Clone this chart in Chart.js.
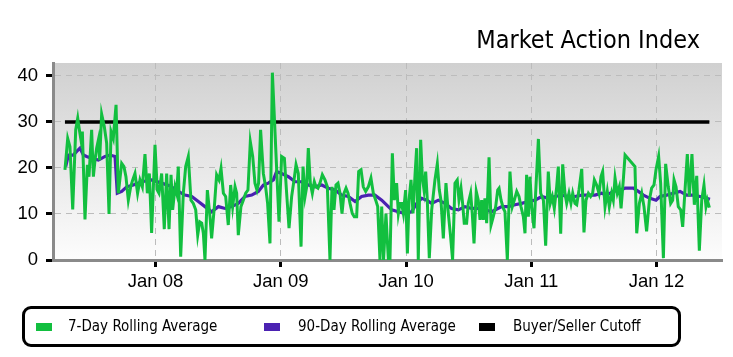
<!DOCTYPE html>
<html>
<head>
<meta charset="utf-8">
<script src="https://cdn.jsdelivr.net/npm/chart.js@4.4.1/dist/chart.umd.min.js"></script>
<style>
html,body{margin:0;padding:0;background:#fff;}
#wrap{position:relative;width:733px;height:357px;overflow:hidden;}
#c{position:absolute;left:0;top:0;}
#title{position:absolute;right:33px;top:29px;font-family:"DejaVu Sans Condensed","DejaVu Sans",sans-serif;font-size:25px;line-height:22px;color:#000;white-space:nowrap;}
#legendBox{position:absolute;left:22px;top:306px;width:659px;height:41px;box-sizing:border-box;border:3.5px solid #000;border-radius:9px;}
.sw{position:absolute;top:323px;width:16px;height:8px;}
.lt{position:absolute;top:319px;font-family:"DejaVu Sans Condensed","DejaVu Sans",sans-serif;font-size:15px;line-height:15px;color:#000;white-space:nowrap;}
</style>
</head>
<body>
<div id="wrap">
<canvas id="c" width="733" height="357"></canvas>
<div id="title">Market Action Index</div>
<div id="legendBox"></div>
<div class="sw" style="left:36px;background:#12bf3f"></div>
<div class="lt" style="left:68px">7-Day Rolling Average</div>
<div class="sw" style="left:264px;background:#4b22b2"></div>
<div class="lt" style="left:298px">90-Day Rolling Average</div>
<div class="sw" style="left:479px;background:#000"></div>
<div class="lt" style="left:513px">Buyer/Seller Cutoff</div>
</div>
<script>
// ---- data (time in decimal years) ----
const yearTicks = [2008, 2009, 2010, 2011, 2012];
const yTicks = [0, 10, 20, 30, 40];
const cutoffValue = 30;

const t7 = [
2007.277,2007.299,2007.317,2007.339,2007.363,2007.379,2007.392,2007.405,2007.416,2007.437,
2007.456,2007.469,2007.490,2007.504,2007.517,2007.530,2007.544,2007.554,2007.570,2007.591,
2007.610,2007.629,2007.645,2007.663,2007.685,2007.703,2007.730,2007.748,2007.764,2007.783,
2007.802,2007.818,2007.836,2007.857,2007.876,2007.895,2007.916,2007.935,2007.951,2007.969,
2007.996,2008.014,2008.028,2008.049,2008.070,2008.089,2008.108,
2008.124,2008.137,2008.156,2008.169,2008.182,2008.201,2008.222,2008.241,2008.262,2008.283,
2008.302,2008.321,2008.337,2008.353,2008.369,2008.382,2008.395,2008.414,2008.435,2008.448,
2008.470,2008.488,2008.507,2008.523,2008.542,2008.560,2008.581,2008.600,2008.616,2008.635,
2008.648,2008.661,2008.682,2008.701,2008.720,2008.738,2008.757,2008.776,2008.794,2008.810,
2008.823,2008.839,2008.861,2008.879,2008.895,2008.914,2008.933,
2008.986,2009.007,2009.029,2009.047,2009.066,2009.087,2009.106,2009.122,2009.140,2009.162,
2009.178,2009.194,2009.207,2009.220,2009.236,2009.252,2009.268,2009.281,2009.297,2009.313,
2009.332,2009.353,2009.372,2009.393,2009.409,2009.425,2009.441,2009.457,2009.473,2009.489,
2009.505,2009.521,2009.537,2009.553,2009.571,2009.587,2009.606,2009.622,2009.641,2009.659,
2009.678,2009.699,2009.720,2009.739,2009.758,2009.774,2009.792,2009.806,2009.821,2009.840,
2009.859,2009.872,2009.891,2009.907,2009.925,2009.939,2009.952,2009.965,2009.979,2009.997,
2010.011,2010.024,2010.040,2010.056,2010.072,2010.085,2010.098,2010.117,2010.130,2010.144,
2010.157,2010.170,2010.186,2010.205,2010.231,2010.250,2010.266,2010.279,2010.298,2010.319,
2010.338,2010.356,2010.372,2010.391,2010.409,2010.423,2010.439,2010.452,2010.465,2010.484,
2010.497,2010.516,2010.529,2010.543,2010.561,2010.577,2010.591,2010.604,2010.617,2010.630,
2010.644,2010.663,2010.679,2010.697,2010.716,2010.732,
2010.743,2010.759,2010.777,2010.790,2010.809,2010.830,2010.849,2010.865,2010.884,2010.902,
2010.918,2010.937,2010.950,2010.963,2010.977,2010.990,2011.003,2011.022,2011.035,2011.057,
2011.075,2011.097,2011.115,2011.136,2011.152,2011.168,2011.184,2011.203,2011.216,2011.235,
2011.251,2011.269,2011.283,2011.301,2011.317,2011.331,2011.349,2011.363,2011.381,2011.403,
2011.421,2011.437,2011.456,2011.474,2011.490,2011.504,2011.522,2011.541,2011.557,
2011.570,2011.589,2011.607,2011.623,2011.642,2011.655,2011.669,2011.687,2011.703,2011.717,
2011.735,2011.749,2011.828,2011.842,2011.863,2011.882,2011.900,2011.921,2011.943,2011.961,
2011.980,2011.996,2012.017,2012.033,2012.055,2012.073,2012.094,2012.113,2012.129,2012.140,
2012.156,2012.174,2012.193,2012.209,2012.227,2012.246,2012.262,2012.283,2012.302,2012.321,
2012.342,2012.361,2012.379,2012.395,2012.406,2012.422
];
const v7 = [
19.6,26.4,24.6,11.0,28.3,30.8,28.3,26.1,27.9,8.8,
20.7,18.1,28.3,18.1,21.7,24.3,26.1,21.7,31.7,29.0,
25.4,10.0,27.9,26.4,33.7,14.5,21.0,20.3,18.1,13.0,
15.9,17.4,18.8,14.5,17.4,15.9,23.0,14.5,18.8,5.9,
25.0,15.2,14.5,18.8,6.7,18.8,6.7,
18.5,10.9,15.9,14.5,20.3,0.7,14.5,20.3,22.5,13.0,
12.3,10.9,5.4,8.3,8.0,5.8,0.0,15.2,9.4,4.7,
11.6,18.5,17.4,19.9,14.5,13.8,7.6,16.3,11.6,15.9,
14.5,5.4,11.6,13.0,14.5,15.2,25.7,22.5,16.7,15.2,
16.7,28.3,18.8,15.9,12.3,3.6,40.7,
8.3,22.5,22.1,14.5,6.9,13.8,17.4,20.7,18.8,2.9,
20.3,13.8,15.9,24.3,16.7,14.5,17.0,15.9,15.6,16.7,
18.5,17.4,15.9,0.0,15.9,10.9,16.3,16.7,14.5,10.1,
14.5,15.6,14.5,12.3,10.1,9.4,9.4,19.2,19.6,15.9,
14.9,15.9,17.8,14.5,13.0,11.6,0.0,11.6,0.0,10.1,
0.0,0.0,23.2,13.0,16.7,10.1,12.3,12.3,10.1,15.2,
1.4,13.0,17.4,10.1,18.5,24.3,0.0,26.1,18.1,15.2,
19.2,13.0,0.4,10.9,17.4,20.9,15.2,13.0,4.7,16.7,
10.1,5.1,0.0,16.7,17.4,13.0,15.6,12.3,8.0,8.0,
12.3,14.5,10.1,3.6,14.9,13.0,8.7,13.0,8.7,13.4,
8.0,22.3,7.6,9.4,11.6,15.2,
15.6,13.0,11.2,10.5,0.0,19.2,11.6,13.0,14.9,13.8,
11.6,9.4,5.8,18.5,9.4,18.1,11.6,6.9,14.5,26.3,
14.5,13.0,3.1,19.2,12.3,13.8,11.2,15.9,20.3,5.7,
20.8,14.5,12.3,14.5,12.3,14.5,12.3,12.0,15.2,19.8,
6.0,13.0,14.5,13.8,14.5,17.4,16.3,14.5,18.1,
19.2,11.6,14.9,11.6,14.5,13.0,17.8,14.5,15.9,11.2,
17.4,22.8,20.3,5.8,12.3,14.5,11.6,6.2,13.0,15.6,
16.3,19.6,22.5,16.7,0.4,20.9,15.9,12.3,13.0,17.4,
15.9,11.6,10.9,7.2,14.9,23.0,13.8,23.0,12.0,18.3,
2.0,13.0,16.3,11.6,13.0,11.4
];

const t90 = [
2007.283,2007.304,2007.344,2007.371,2007.397,2007.424,2007.450,2007.490,2007.544,2007.597,
2007.637,2007.677,2007.695,2007.730,2007.770,2007.823,2007.889,2007.969,2008.049,2008.116,
2008.182,2008.235,2008.289,2008.342,2008.395,2008.448,2008.502,2008.555,2008.608,2008.661,
2008.714,2008.768,2008.821,2008.861,2008.901,2008.941,2008.967,2009.007,2009.061,2009.114,
2009.167,2009.220,2009.273,2009.327,2009.380,2009.433,2009.486,2009.540,2009.593,2009.646,
2009.699,2009.752,2009.806,2009.859,2009.886,2009.939,2009.992,2010.045,2010.085,2010.125,
2010.165,2010.205,2010.258,2010.311,2010.364,2010.418,2010.471,2010.524,2010.577,2010.631,
2010.684,2010.764,2010.817,2010.870,2010.923,2010.977,2011.030,2011.083,2011.136,2011.190,
2011.243,2011.296,2011.349,2011.403,2011.456,2011.509,2011.562,2011.602,2011.655,2011.709,
2011.749,2011.815,2011.855,2011.895,2011.948,2011.996,2012.028,2012.081,2012.134,2012.188,
2012.241,2012.294,2012.347,2012.400,2012.427
];
const v90 = [
20.3,22.8,22.8,23.6,24.3,22.8,22.5,22.1,21.7,22.5,
22.8,22.5,14.5,14.9,15.9,16.3,17.0,17.4,16.7,16.1,
14.9,14.1,13.8,12.7,11.6,10.5,11.6,11.2,11.6,12.3,
13.8,14.1,14.9,16.3,16.7,17.4,19.2,18.8,18.1,17.0,
17.0,16.3,15.9,16.3,15.6,15.2,14.1,13.8,12.7,13.8,
14.1,14.1,13.0,11.6,10.9,10.5,10.1,10.5,12.3,13.4,
13.0,12.3,13.0,12.3,11.2,10.9,11.6,11.2,11.2,10.9,
10.5,11.6,11.6,12.0,12.3,12.7,13.0,13.8,13.4,13.8,
14.1,13.8,13.8,14.1,14.1,14.1,14.5,14.1,14.9,15.2,
15.6,15.6,14.9,14.1,13.4,13.0,13.8,14.1,14.5,14.9,
14.1,14.1,13.8,13.4,13.2
];

const plotBg = {
  id: 'plotBg',
  beforeDraw(chart) {
    const {ctx, chartArea: a} = chart;
    const g = ctx.createLinearGradient(0, a.top, 0, a.bottom);
    g.addColorStop(0, '#d0d0d0');
    g.addColorStop(1, '#fdfdfd');
    ctx.save();
    ctx.fillStyle = g;
    ctx.fillRect(a.left, a.top, a.right - a.left, a.bottom - a.top);
    ctx.restore();
  }
};

const axisFont = {family: '"Liberation Sans", Arial, sans-serif', size: 18.5};
const gridCfg = {color: '#bcbcbc', lineWidth: 1, tickColor: '#000', tickWidth: 3, tickLength: 7};
const borderCfg = {display: true, color: '#8a8a8a', width: 3, dash: [6, 5]};

new Chart(document.getElementById('c'), {
  type: 'line',
  data: {
    datasets: [
      {label: '7-Day Rolling Average', data: t7.map((t, i) => ({x: t, y: v7[i]})),
       borderColor: '#12bf3f', borderWidth: 3, pointRadius: 0, tension: 0, order: 0},
      {label: '90-Day Rolling Average', data: t90.map((t, i) => ({x: t, y: v90[i]})),
       borderColor: '#4b22b2', borderWidth: 3.2, pointRadius: 0, tension: 0, order: 1},
      {label: 'Buyer/Seller Cutoff',
       data: [{x: t7[0], y: cutoffValue}, {x: t7[t7.length - 1], y: cutoffValue}],
       borderColor: '#000', borderWidth: 3.5, pointRadius: 0, order: 2}
    ]
  },
  options: {
    responsive: false,
    animation: false,
    devicePixelRatio: 1,
    layout: {padding: {top: 63, right: 11, left: 0, bottom: 0}},
    plugins: {legend: {display: false}, tooltip: {enabled: false}, title: {display: false}},
    scales: {
      x: {
        type: 'linear', min: 2007.1816, max: 2012.5229,
        afterBuildTicks: s => { s.ticks = yearTicks.map(v => ({value: v})); },
        afterFit: s => { s.height = 97; },
        ticks: {callback: v => 'Jan ' + String(v).slice(2), font: axisFont, color: '#000',
                padding: 4, maxRotation: 0, autoSkip: false},
        grid: gridCfg, border: borderCfg
      },
      y: {
        min: 0, max: 42.8,
        afterBuildTicks: s => { s.ticks = yTicks.map(v => ({value: v})); },
        afterFit: s => { s.width = 53; },
        ticks: {font: axisFont, color: '#000', padding: 8},
        grid: gridCfg, border: borderCfg
      }
    }
  },
  plugins: [plotBg]
});
</script>
</body>
</html>
